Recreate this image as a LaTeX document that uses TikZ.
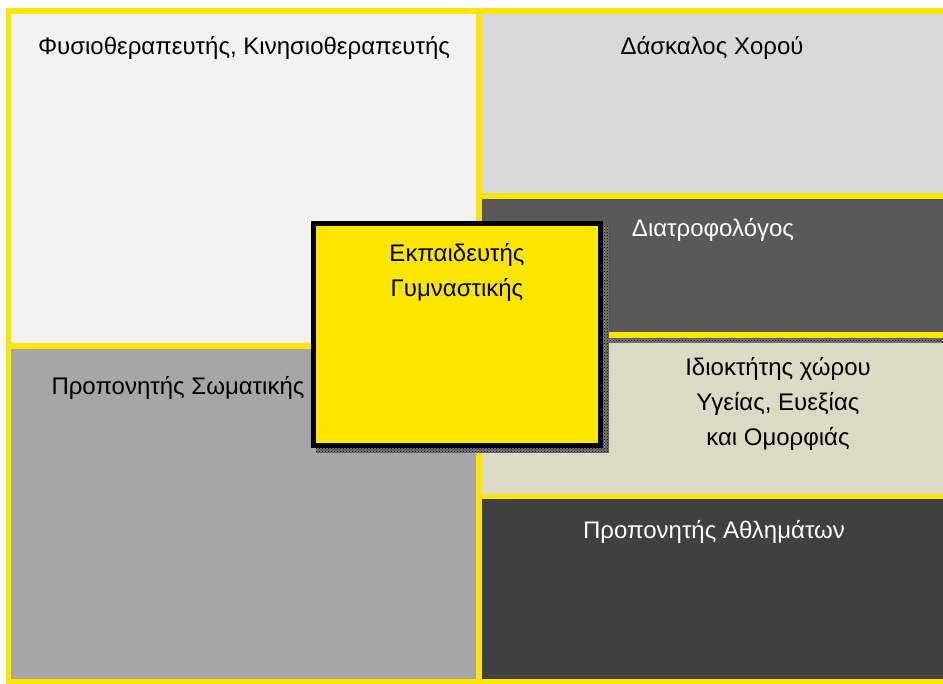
\documentclass[tikz,border=0pt]{standalone}
\usepackage{fontspec}
\setmainfont{Liberation Sans}
\usetikzlibrary{positioning, patterns}
\definecolor{roleyellow}{HTML}{FFE600}
\definecolor{paleface}{HTML}{F2F2F2}
\definecolor{lightface}{HTML}{D9D9D9}
\definecolor{midface}{HTML}{A6A6A6}
\definecolor{darkface}{HTML}{595959}
\definecolor{deepface}{HTML}{404040}
\definecolor{sandface}{HTML}{DDD9C3}
\tikzset{
  rolebox/.style={
    draw=roleyellow, line width=5.5pt, anchor=north west,
    inner sep=0pt, outer sep=0pt
  },
  centrebox/.style={
    draw=black, fill=roleyellow, line width=5pt, anchor=north west,
    inner sep=0pt, outer sep=0pt, minimum width=287pt, minimum height=222pt
  },
  boxshadow/.style={
    fill=black!55, postaction={pattern=crosshatch dots, pattern color=black}
  },
  roletext/.style={
    font=\fontsize{24}{35}\selectfont, align=center, text=black,
    inner sep=0pt, anchor=base
  },
  lighttext/.style={roletext, text=white}
}

\begin{document}
\begin{tikzpicture}[x=1pt, y=-1pt]
  \useasboundingbox (0,0) rectangle (943,684);
  \clip (0,0) rectangle (943,684);

  % left column
  \node[rolebox, fill=paleface, minimum width=470.5pt, minimum height=335pt]
    (physio) at (8.5,11) {};
  \node[rolebox, fill=midface, minimum width=470.5pt, minimum height=335.5pt]
    (somatic) at (8.5,346) {};

  % right column
  \node[rolebox, fill=lightface, minimum width=480pt, minimum height=185pt]
    (dance) at (479,11) {};
  \node[rolebox, fill=darkface, minimum width=480pt, minimum height=139pt]
    (diet) at (479,196) {};
  \node[rolebox, fill=sandface, minimum width=480pt, minimum height=161.5pt]
    (spa) at (479,335) {};
  \node[rolebox, fill=deepface, minimum width=480pt, minimum height=185pt]
    (athletes) at (479,496.5) {};

  % shadow under the dark box
  \path[boxshadow] (481.5,338.5) rectangle (950,343);

  % centre box with its shadow
  \path[boxshadow] (316,226) rectangle (609,453);
  \node[centrebox] (trainer) at (313.5,223.5) {};

  % labels (base = last line)
  \node[roletext] (physiolbl) at (244,55) {Φυσιοθεραπευτής, Κινησιοθεραπευτής};
  \node[roletext] (dancelbl) at (712,55) {Δάσκαλος Χορού};
  \node[lighttext] (dietlbl) at (713,237) {Διατροφολόγος};
  \node[roletext] (somaticlbl) at (178,395) {Προπονητής Σωματικής};
  \node[roletext] (spalbl) at (778,446) {Ιδιοκτήτης χώρου\\Υγείας, Ευεξίας\\και Ομορφιάς};
  \node[lighttext] (athleteslbl) at (714,539) {Προπονητής Αθλημάτων};
  \node[roletext] (trainerlbl) at (457,297) {Εκπαιδευτής\\Γυμναστικής};
\end{tikzpicture}
\end{document}
